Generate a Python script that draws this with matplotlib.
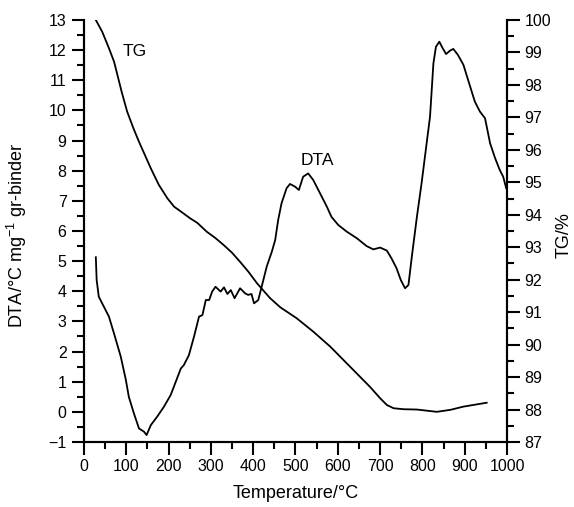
import matplotlib.pyplot as plt
from matplotlib.ticker import MultipleLocator

plt.rcParams['font.family'] = ['Liberation Sans', 'DejaVu Sans']

# DTA curve (left axis)
dta_t = [28, 30, 35, 47, 59, 71, 87, 99, 106, 118, 130, 142, 148, 158, 173, 189,
         205, 217, 229, 236, 248, 260, 272, 280, 288, 296, 303, 311, 323, 331, 339,
         347, 356, 369, 381, 388, 396, 402, 412, 420, 432, 444, 452, 459, 467, 479,
         487, 499, 508, 518, 530, 542, 558, 574, 585, 601, 621, 645, 668, 684, 700,
         716, 727, 739, 749, 759, 767, 775, 787, 798, 810, 818, 826, 832, 840, 848,
         856, 865, 873, 884, 897, 908, 924, 936, 948, 960, 972, 983, 991, 998]
dta_v = [5.13, 4.37, 3.82, 3.49, 3.16, 2.6, 1.83, 1.06, 0.5, -0.05, -0.55, -0.66,
         -0.77, -0.44, -0.16, 0.17, 0.56, 1.0, 1.44, 1.55, 1.88, 2.49, 3.16, 3.21,
         3.71, 3.71, 3.99, 4.15, 3.99, 4.13, 3.91, 4.04, 3.77, 4.1, 3.93, 3.88, 3.91,
         3.6, 3.71, 4.15, 4.82, 5.31, 5.7, 6.36, 6.92, 7.42, 7.56, 7.47, 7.36, 7.8,
         7.91, 7.69, 7.25, 6.81, 6.47, 6.2, 5.98, 5.76, 5.5, 5.39, 5.45, 5.35, 5.09,
         4.76, 4.37, 4.1, 4.21, 5.15, 6.47, 7.58, 8.91, 9.79, 11.56, 12.11, 12.28,
         12.06, 11.87, 11.98, 12.04, 11.84, 11.51, 11.01, 10.29, 9.96, 9.74, 8.91,
         8.41, 8.02, 7.8, 7.42]

# TG curve (right axis)
tg_t = [28, 43, 59, 71, 79, 89, 102, 117, 130, 144, 158, 177, 197, 213, 229, 251,
        268, 290, 310, 330, 350, 369, 389, 409, 440, 464, 503, 542, 582, 629, 676,
        700, 716, 732, 755, 787, 834, 866, 897, 952]
tg_v = [100.0, 99.64, 99.13, 98.72, 98.31, 97.79, 97.18, 96.66, 96.25, 95.84, 95.43,
        94.92, 94.51, 94.25, 94.1, 93.89, 93.75, 93.48, 93.29, 93.07, 92.83, 92.55,
        92.24, 91.89, 91.43, 91.15, 90.81, 90.4, 89.94, 89.32, 88.7, 88.35, 88.14,
        88.04, 88.01, 88.0, 87.93, 87.99, 88.09, 88.21]

fig = plt.figure(figsize=(5.74, 5.07), dpi=100)
ax = fig.add_axes([0.1463, 0.1282, 0.7370, 0.8324])
ax2 = ax.twinx()

ax.plot(dta_t, dta_v, color='black', lw=1.3)
ax2.plot(tg_t, tg_v, color='black', lw=1.3)

ax.set_xlim(0, 1000)
ax.set_ylim(-1, 13)
ax2.set_ylim(87, 100)

ax.xaxis.set_major_locator(MultipleLocator(100))
ax.xaxis.set_minor_locator(MultipleLocator(50))
ax.yaxis.set_major_locator(MultipleLocator(1))
ax.yaxis.set_minor_locator(MultipleLocator(0.5))
ax2.yaxis.set_major_locator(MultipleLocator(1))
ax2.yaxis.set_minor_locator(MultipleLocator(0.5))

for a in (ax, ax2):
    a.spines['top'].set_visible(False)
    for s in a.spines.values():
        s.set_linewidth(1.5)
    a.tick_params(which='major', length=9, width=1.5, labelsize=11.5, direction='out')
    a.tick_params(which='minor', length=5, width=1.5, direction='out')

ax.set_xlabel('Temperature/°C', fontsize=13)
ax.set_ylabel('DTA/°C mg$^{\\mathregular{-1}}$ gr-binder', fontsize=13)
ax2.set_ylabel('TG/%', fontsize=13)
ax.xaxis.set_label_coords(0.5, -0.103)
ax.yaxis.set_label_coords(-0.13, 0.49)
ax2.yaxis.set_label_coords(1.115, 0.49)

ax.text(92, 11.94, 'TG', fontsize=12.5, va='center')
ax.text(551, 8.34, 'DTA', fontsize=12.5, ha='center', va='center')

fig.savefig('out.png', dpi=100)
